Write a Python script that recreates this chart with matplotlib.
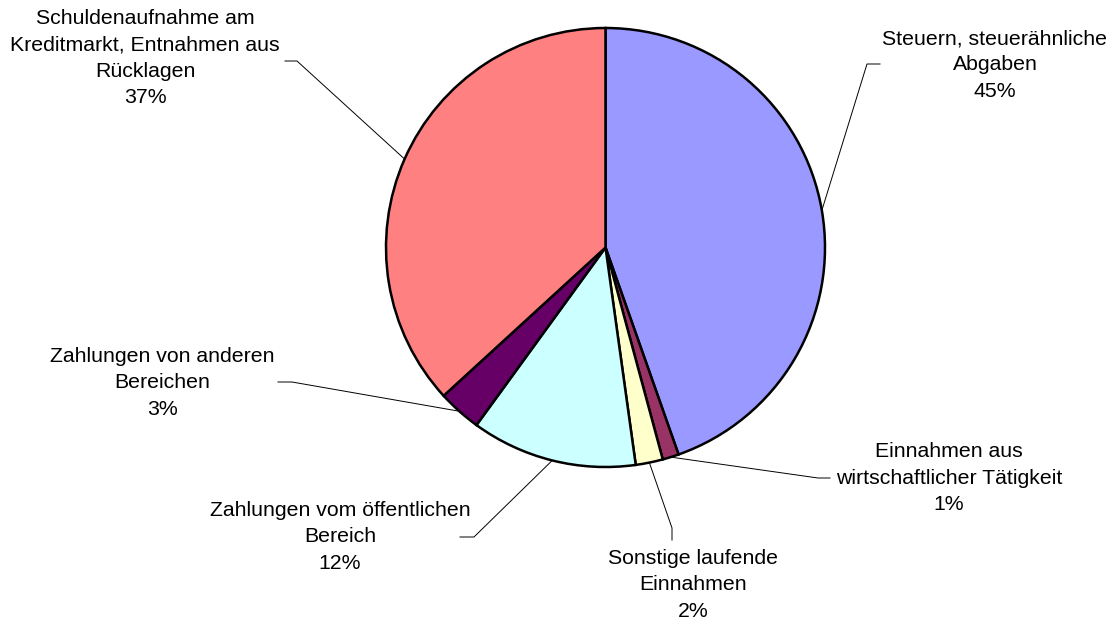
import numpy as np
import matplotlib
matplotlib.use("Agg")
import matplotlib.pyplot as plt

plt.rcParams['font.family'] = ['Liberation Sans', 'DejaVu Sans']

# Data (shares in percent), clockwise from 12 o'clock
labels = [
    "Steuern, steuerähnliche\nAbgaben",
    "Einnahmen aus\nwirtschaftlicher Tätigkeit",
    "Sonstige laufende\nEinnahmen",
    "Zahlungen vom öffentlichen\nBereich",
    "Zahlungen von anderen\nBereichen",
    "Schuldenaufnahme am\nKreditmarkt, Entnahmen aus\nRücklagen",
]
values = [44.6, 1.2, 2.0, 12.2, 3.2, 36.8]
colors = ["#9999FF", "#993366", "#FFFFCC", "#CCFFFF", "#660066", "#FF8080"]

W, H = 1113, 623
fig = plt.figure(figsize=(W / 100, H / 100), dpi=100)
ax = fig.add_axes([0, 0, 1, 1])
ax.set_xlim(0, W)
ax.set_ylim(0, H)
ax.set_aspect('equal')
ax.axis('off')

cx, cy, r = 605.5, H - 247.5, 219.5
wedges, _ = ax.pie(values, colors=colors, startangle=90, counterclock=False,
                   center=(cx, cy), radius=r,
                   wedgeprops=dict(edgecolor='black', linewidth=1.8))
ax.set_xlim(0, W)
ax.set_ylim(0, H)

# label layout (pixel coords, y down): text center, elbow, line end at text
layout = [
    ((995, 65), (867, 64), (880, 64)),
    ((949, 478), (818, 478), (830, 478)),
    ((693, 585), (672, 528), (672, 540)),
    ((340, 537), (474, 537), (460, 537)),
    ((162, 383), (292, 382), (278, 382)),
    ((145, 58), (297, 61), (285, 61)),
]

for w, lab, v, (tc, elbow, tend) in zip(wedges, labels, values, layout):
    mid = np.deg2rad((w.theta1 + w.theta2) / 2)
    px, py = cx + r * np.cos(mid), cy + r * np.sin(mid)
    ax.plot([px, elbow[0], tend[0]], [py, H - elbow[1], H - tend[1]],
            color='black', lw=0.7, zorder=0)
    ax.text(tc[0], H - tc[1], f"{lab}\n{v:.0f}%", ha='center', va='center',
            fontsize=15.3, linespacing=1.47)

fig.savefig("out.png", dpi=100)
